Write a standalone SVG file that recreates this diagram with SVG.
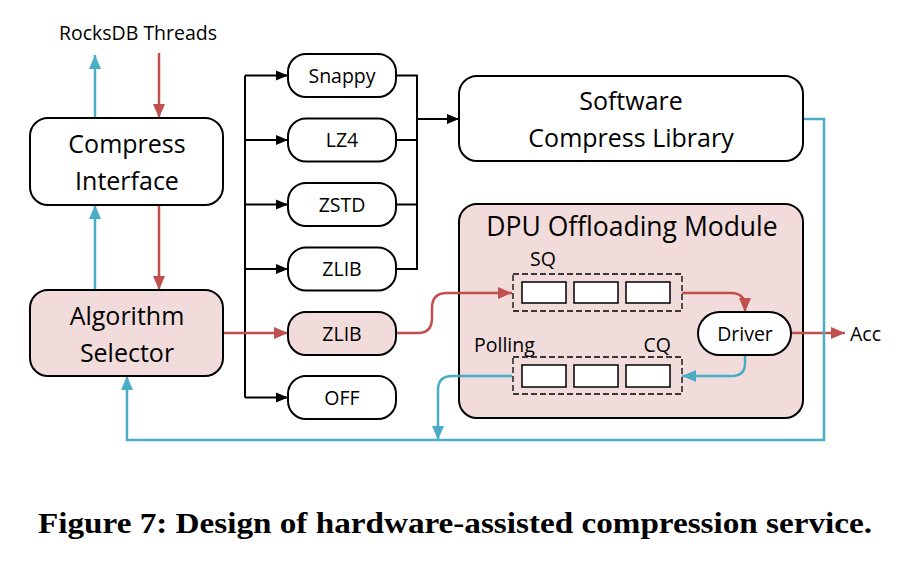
<svg xmlns="http://www.w3.org/2000/svg" width="904" height="562" viewBox="0 0 904 562">
<style>
.box{fill:#fff;stroke:#000;stroke-width:2}
.pink{fill:#F2DCDB;stroke:#000;stroke-width:2}
.cell{fill:#fff;stroke:#000;stroke-width:1.5}
.dash{fill:none;stroke:#000;stroke-width:1.3;stroke-dasharray:6,3}
.t{font-family:"Open Sans","Liberation Sans",sans-serif;fill:#000;text-anchor:middle}
.big{font-size:25px}
.sm{font-size:19.5px}
.cap{font-family:"Liberation Serif","Times New Roman",serif;font-weight:bold;font-size:29px;text-anchor:middle;fill:#000}
.blk{fill:none;stroke:#000;stroke-width:2}
.red{fill:none;stroke:#C0504D;stroke-width:2.5}
.blu{fill:none;stroke:#4BACC6;stroke-width:2.5}
</style>
<defs>
<marker id="ab" markerUnits="userSpaceOnUse" markerWidth="12" markerHeight="12" viewBox="0 0 12 12" refX="12" refY="6" orient="auto"><path d="M0,1 L12,6 L0,11 Z" fill="#000"/></marker>
<marker id="ar" markerUnits="userSpaceOnUse" markerWidth="14" markerHeight="14" viewBox="0 0 14 14" refX="14" refY="7" orient="auto"><path d="M0,1 L14,7 L0,13 Z" fill="#C0504D"/></marker>
<marker id="au" markerUnits="userSpaceOnUse" markerWidth="14" markerHeight="14" viewBox="0 0 14 14" refX="14" refY="7" orient="auto"><path d="M0,1 L14,7 L0,13 Z" fill="#4BACC6"/></marker>
</defs>
<rect width="904" height="562" fill="#fff"/>

<g id="dpu-offloading-module">
<rect class="pink" x="459" y="204" width="344" height="214" rx="18"/>
<text class="t" style="font-size:26.5px" x="632" y="236">DPU Offloading Module</text>
</g>

<g id="connectors">
<path class="blk" d="M245,75.5 V397.5"/>
<path class="blk" d="M245,75.5 H288" marker-end="url(#ab)"/>
<path class="blk" d="M245,140 H288" marker-end="url(#ab)"/>
<path class="blk" d="M245,204.5 H288" marker-end="url(#ab)"/>
<path class="blk" d="M245,269 H288" marker-end="url(#ab)"/>
<path class="blk" d="M245,397.5 H288" marker-end="url(#ab)"/>
<path class="blk" d="M396,75.5 H417 V269 H396"/>
<path class="blk" d="M396,140 H417 M396,204.5 H417"/>
<path class="blk" d="M417,119 H459" marker-end="url(#ab)"/>
<path class="red" d="M159,53 V118" marker-end="url(#ar)"/>
<path class="red" d="M159,205 V290" marker-end="url(#ar)"/>
<path class="red" d="M223,333 H288" marker-end="url(#ar)"/>
<path class="red" d="M396,333 H418 Q432,333 432,318 V308 Q432,293 447,293 H512" marker-end="url(#ar)"/>
<path class="red" d="M682,293 H731 Q745,293 745,307 V312" marker-end="url(#ar)"/>
<path class="red" d="M791,333 H845" marker-end="url(#ar)"/>
<path class="blu" d="M95,118 V55" marker-end="url(#au)"/>
<path class="blu" d="M95,290 V205" marker-end="url(#au)"/>
<path class="blu" d="M803,119 H824 V440 H127 V376" marker-end="url(#au)"/>
<path class="blu" d="M745,355 V363 Q745,376 732,376 H682" marker-end="url(#au)"/>
<path class="blu" d="M512,376 H452 Q438,376 438,390 V440" marker-end="url(#au)"/>
</g>

<text class="t sm" x="138" y="40">RocksDB Threads</text>

<g id="compress-interface">
<rect class="box" x="30" y="118" width="193" height="87" rx="18"/>
<text class="t big" x="127" y="153">Compress</text>
<text class="t big" x="127" y="190">Interface</text>
</g>
<g id="algorithm-selector">
<rect class="pink" x="30" y="290" width="193" height="86" rx="18"/>
<text class="t big" x="127" y="325">Algorithm</text>
<text class="t big" x="127" y="362">Selector</text>
</g>

<g id="snappy"><rect class="box" x="288" y="54" width="108" height="43" rx="18"/><text class="t sm" x="342" y="82.5">Snappy</text></g>
<g id="lz4"><rect class="box" x="288" y="118.5" width="108" height="43" rx="18"/><text class="t sm" x="342" y="147">LZ4</text></g>
<g id="zstd"><rect class="box" x="288" y="183" width="108" height="43" rx="18"/><text class="t sm" x="342" y="211.5">ZSTD</text></g>
<g id="zlib"><rect class="box" x="288" y="247.5" width="108" height="43" rx="18"/><text class="t sm" x="342" y="276">ZLIB</text></g>
<g id="zlib-hw"><rect class="pink" x="288" y="312" width="108" height="43" rx="18"/><text class="t sm" x="342" y="340.5">ZLIB</text></g>
<g id="off"><rect class="box" x="288" y="376" width="108" height="43" rx="18"/><text class="t sm" x="342" y="404.5">OFF</text></g>

<g id="software-compress-library">
<rect class="box" x="459" y="76" width="344" height="85" rx="18"/>
<text class="t big" x="631" y="110">Software</text>
<text class="t big" x="631" y="147">Compress Library</text>
</g>

<g id="sq">
<text class="t sm" x="543" y="266">SQ</text>
<rect class="dash" x="513" y="274" width="169" height="37"/>
<rect class="cell" x="522" y="282" width="44" height="21"/>
<rect class="cell" x="574" y="282" width="44" height="21"/>
<rect class="cell" x="626" y="282" width="44" height="21"/>
</g>
<g id="cq">
<text class="t sm" style="text-anchor:start" x="474" y="352">Polling</text>
<text class="t sm" style="text-anchor:end" x="671" y="352">CQ</text>
<rect class="dash" x="513" y="357" width="169" height="37"/>
<rect class="cell" x="522" y="365" width="44" height="22"/>
<rect class="cell" x="574" y="365" width="44" height="22"/>
<rect class="cell" x="626" y="365" width="44" height="22"/>
</g>
<g id="driver">
<rect class="box" x="698" y="312" width="93" height="43" rx="21.5"/>
<text class="t sm" x="745" y="340.5">Driver</text>
</g>
<text class="t sm" style="text-anchor:start" x="850" y="340.5">Acc</text>

<text class="cap" x="455" y="533" textLength="834" lengthAdjust="spacingAndGlyphs">Figure 7: Design of hardware-assisted compression service.</text>
</svg>
